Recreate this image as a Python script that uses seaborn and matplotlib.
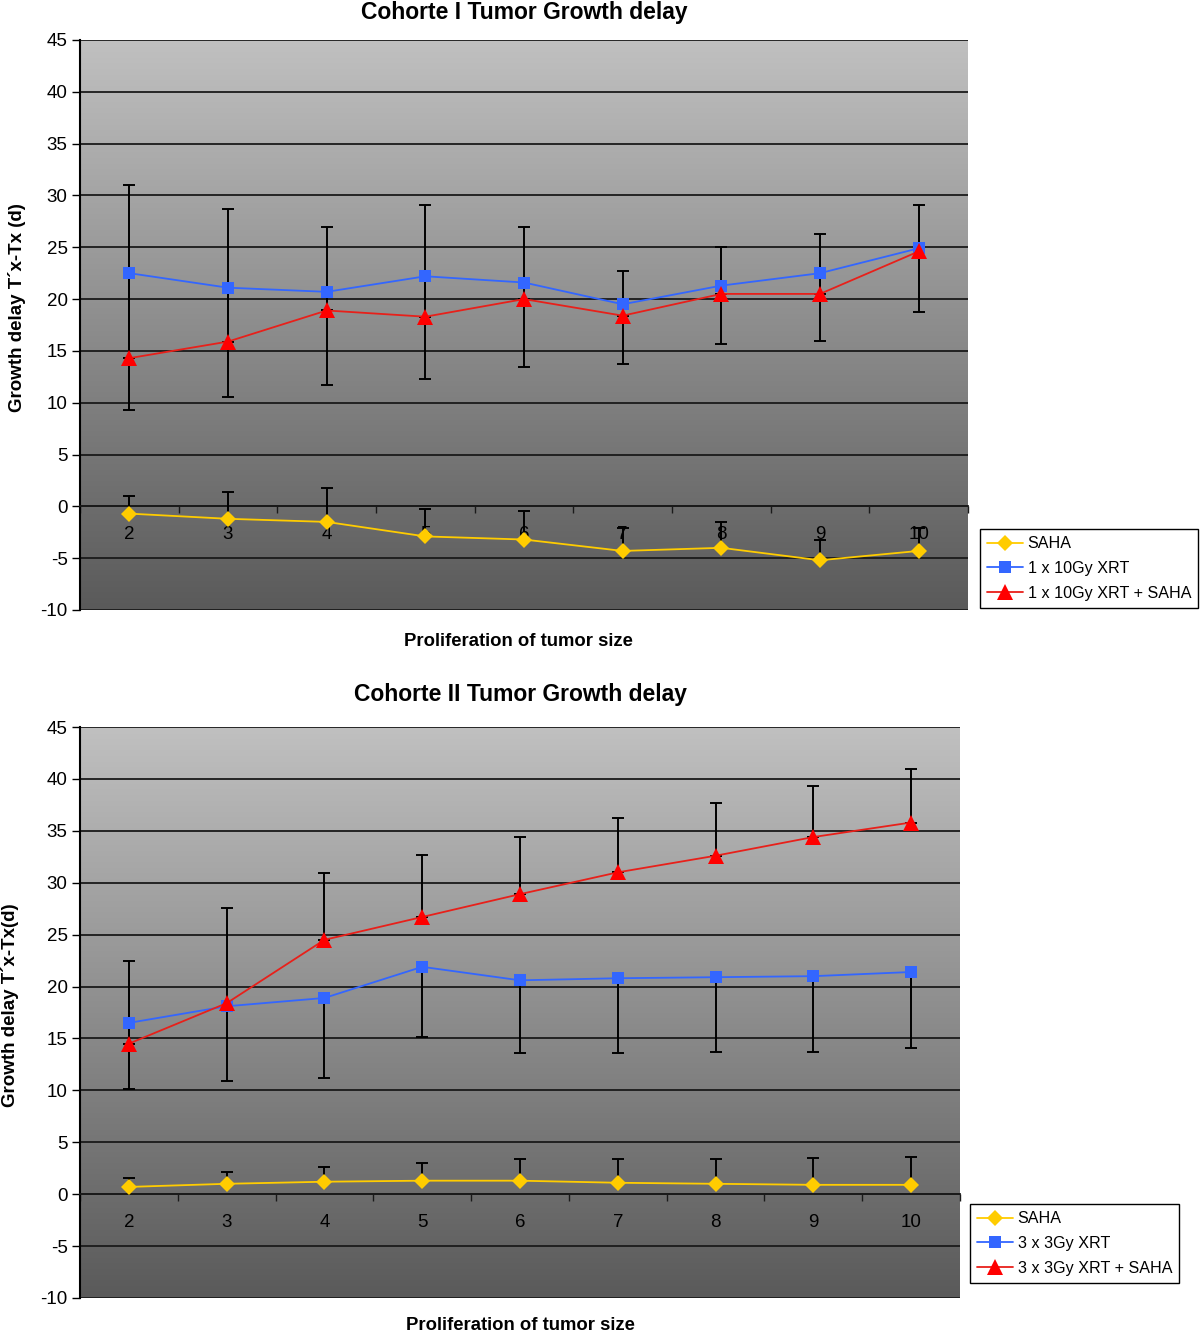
import numpy as np
import pandas as pd
import matplotlib
matplotlib.use("Agg")
import matplotlib.pyplot as plt
from matplotlib.colors import LinearSegmentedColormap
import seaborn as sns

# ---------------- data ----------------
sizes = [2, 3, 4, 5, 6, 7, 8, 9, 10]

# Cohort I
c1_saha = [-0.7, -1.2, -1.5, -2.9, -3.2, -4.3, -4.0, -5.2, -4.3]
c1_saha_top = [1.0, 1.4, 1.8, -0.3, -0.4, -2.1, -1.5, -3.2, -2.1]
c1_xrt = [22.5, 21.1, 20.7, 22.2, 21.6, 19.5, 21.3, 22.5, 24.9]
c1_xrt_low = [9.3, 10.6, 11.7, 12.3, 13.4, 13.7, 15.7, 16.0, 18.8]
c1_comb = [14.3, 15.9, 18.9, 18.3, 20.0, 18.4, 20.5, 20.5, 24.6]
c1_comb_top = [31.0, 28.7, 27.0, 29.1, 27.0, 22.7, 25.0, 26.3, 29.1]

# Cohort II
c2_saha = [0.7, 1.0, 1.2, 1.3, 1.3, 1.1, 1.0, 0.9, 0.9]
c2_saha_top = [1.6, 2.1, 2.6, 3.0, 3.4, 3.4, 3.4, 3.5, 3.6]
c2_xrt = [16.5, 18.1, 18.9, 21.9, 20.6, 20.8, 20.9, 21.0, 21.4]
c2_xrt_low = [10.1, 10.9, 11.2, 15.1, 13.6, 13.6, 13.7, 13.7, 14.1]
c2_comb = [14.5, 18.4, 24.5, 26.7, 28.9, 31.0, 32.6, 34.4, 35.8]
c2_comb_top = [22.5, 27.6, 30.9, 32.7, 34.4, 36.2, 37.7, 39.3, 41.0]

titles = ["Cohorte I Tumor Growth delay", "Cohorte II Tumor Growth delay"]
ylabels = ["Growth delay T´x-Tx (d)", "Growth delay T´x-Tx(d)"]
xlabel = "Proliferation of tumor size"
legend_names = [["SAHA", "1 x 10Gy XRT", "1 x 10Gy XRT + SAHA"],
                ["SAHA", "3 x 3Gy XRT", "3 x 3Gy XRT + SAHA"]]
yticks = [45, 40, 35, 30, 25, 20, 15, 10, 5, 0, -5, -10]

# ---------------- style ----------------
sns.set_style("white")
plt.rcParams['font.family'] = ['Liberation Sans', 'DejaVu Sans']
plt.rcParams['text.color'] = 'black'
plt.rcParams['xtick.color'] = 'black'
plt.rcParams['ytick.color'] = 'black'
plt.rcParams['axes.labelcolor'] = 'black'

col_saha = "#FFCC00"
col_xrt = "#3366FF"
col_comb = "#FF0000"
line_comb = "#E8201A"

fig = plt.figure(figsize=(12, 13.36), dpi=100)
ax1 = fig.add_axes([80/1200, 1-610/1336, 888/1200, 570/1336])
ax2 = fig.add_axes([80/1200, 1-1298/1336, 880/1200, 571/1336])

cmap = LinearSegmentedColormap.from_list("bg", ["#5a5a5a", "#c0c0c0"])
grad = np.linspace(0, 1, 256).reshape(-1, 1)

datasets = [
    (c1_saha, c1_saha_top, c1_xrt, c1_xrt_low, c1_comb, c1_comb_top),
    (c2_saha, c2_saha_top, c2_xrt, c2_xrt_low, c2_comb, c2_comb_top),
]
title_pads = [15, 19]
ylabel_coords = [(-0.061, 0.53), (-0.069, 0.513)]

eb_kw = dict(fmt='none', ecolor='black', elinewidth=1.4, capsize=4.5,
             capthick=1.4, zorder=3)

for i, (ax, ds) in enumerate(zip([ax1, ax2], datasets)):
    saha, saha_top, xrt, xrt_low, comb, comb_top = ds
    ax.imshow(grad, extent=[0, 1, 0, 1], transform=ax.transAxes,
              aspect='auto', cmap=cmap, origin='lower', zorder=0)
    for yv in yticks:
        ax.axhline(yv, color="#1a1a1a", lw=1.3, zorder=1)

    df = pd.DataFrame({
        "size": sizes * 3,
        "value": list(saha) + list(xrt) + list(comb),
        "series": [legend_names[i][0]] * 9 + [legend_names[i][1]] * 9 + [legend_names[i][2]] * 9,
    })

    sa = np.array(saha); st = np.array(saha_top)
    ax.errorbar(sizes, sa, yerr=[np.zeros(9), st - sa], **eb_kw)
    xr = np.array(xrt); xl = np.array(xrt_low)
    ax.errorbar(sizes, xr, yerr=[xr - xl, np.zeros(9)], **eb_kw)
    cb = np.array(comb); ct = np.array(comb_top)
    ax.errorbar(sizes, cb, yerr=[np.zeros(9), ct - cb], **eb_kw)

    sns.lineplot(data=df[df.series == legend_names[i][0]], x="size", y="value",
                 ax=ax, color=col_saha, marker='D', markersize=8, lw=1.3,
                 markeredgewidth=0, label=legend_names[i][0], zorder=4)
    sns.lineplot(data=df[df.series == legend_names[i][1]], x="size", y="value",
                 ax=ax, color=col_xrt, marker='s', markersize=9, lw=1.3,
                 markeredgewidth=0, label=legend_names[i][1], zorder=4)
    sns.lineplot(data=df[df.series == legend_names[i][2]], x="size", y="value",
                 ax=ax, color=line_comb, marker='^', markersize=11, lw=1.3,
                 markerfacecolor=col_comb, markeredgewidth=0,
                 label=legend_names[i][2], zorder=4)

    ax.set_xlim(1.5, 10.5)
    ax.set_ylim(-10, 45)
    ax.set_yticks(yticks)
    ax.set_yticklabels([str(v) for v in yticks], fontsize=13.5, color='black')
    ax.tick_params(axis='y', direction='out', length=6, width=1, color='black',
                   left=True, pad=3)

    ax.spines['bottom'].set_position(('data', 0))
    ax.spines['bottom'].set_color('#1a1a1a')
    ax.spines['bottom'].set_linewidth(1.3)
    ax.spines['left'].set_color('black')
    ax.spines['left'].set_linewidth(1.5)
    ax.spines['top'].set_visible(False)
    ax.spines['right'].set_visible(False)

    ax.set_xticks(sizes)
    ax.set_xticklabels([str(s) for s in sizes], fontsize=13.5, color='black')
    ax.set_xticks(np.arange(1.5, 11.0, 1.0), minor=True)
    ax.tick_params(axis='x', which='major', length=0, pad=14)
    ax.tick_params(axis='x', which='minor', direction='out', length=5,
                   width=1, color='#1a1a1a', bottom=True)

    ax.set_xlabel("")
    ax.set_ylabel(ylabels[i], fontsize=13.5, fontweight='bold', color='black')
    ax.yaxis.set_label_coords(*ylabel_coords[i])
    ax.set_title(titles[i], fontsize=16.5, fontweight='bold',
                 pad=title_pads[i], color='black')

    if ax.legend_:
        ax.legend_.remove()

fig.text(518/1200, 1-642/1336, xlabel, ha='center', va='center',
         fontsize=13.3, fontweight='bold', color='black')
fig.text(520/1200, 1-1325/1336, xlabel, ha='center', va='center',
         fontsize=13.3, fontweight='bold', color='black')

for ax, anchor in [(ax1, (980/1200, 1-608/1336)), (ax2, (970/1200, 1-1283/1336))]:
    h, l = ax.get_legend_handles_labels()
    leg = fig.legend(h, l, loc='lower left', bbox_to_anchor=anchor,
                     bbox_transform=fig.transFigure, fontsize=11.6,
                     frameon=True, fancybox=False, edgecolor='black',
                     framealpha=1, borderpad=0.45, labelspacing=0.6,
                     handlelength=2.2, handletextpad=0.3, borderaxespad=0)
    leg.get_frame().set_linewidth(1.0)
    for t in leg.get_texts():
        t.set_color('black')

fig.savefig("out.png", dpi=100)
